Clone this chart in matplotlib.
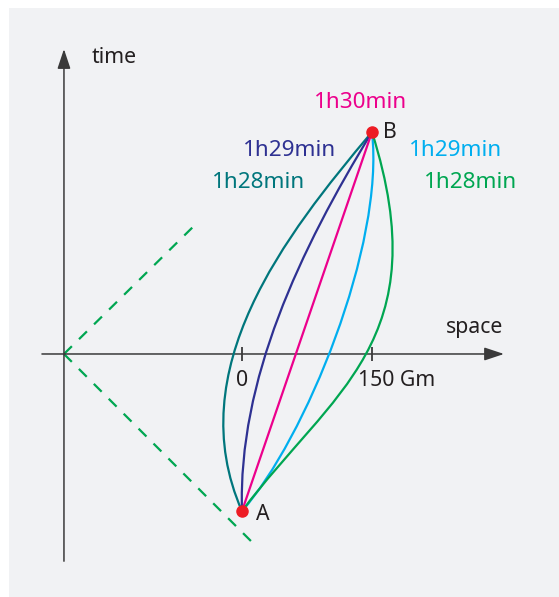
import matplotlib
matplotlib.use("Agg")
import matplotlib.pyplot as plt
from matplotlib.path import Path
from matplotlib.patches import PathPatch, Rectangle

# events (space in Gm, time in min)
event_names = ["A", "B"]
event_x = [0, 150]
event_t = [0, 90]

space_ticks = [0, 150]
space_tick_labels = ["0", "150 Gm"]

# world lines from A to B: bezier control points between the two events
path_labels = ["1h28min", "1h29min", "1h30min", "1h29min", "1h28min"]
path_colors = ["#00767c", "#2e3192", "#ec008c", "#00aeef", "#00a651"]
teal_ctrl = [(-71.5, 33.5), (49.6, 65.5)]
navy_ctrl = [(-4.6, 31.1), (66.9, 62.0)]
magenta_ctrl = []
cyan_ctrl = [(72.7, 16.9), (165.0, 63.2)]
green_ctrl = [(103.8, 28.5), (226.2, 40.4)]

# axes of the diagram
origin_x, origin_t = -205.4, 37.3
time_axis = [-11.9, 109.7]
space_axis = [-230.8, 302.3]
cone_up = (-55.4, 67.7)
cone_down = (12.7, -7.6)

ink = "#231f20"
axis_col = "#3a3a3a"

fig = plt.figure(figsize=(5.59, 5.97), dpi=100)
ax = fig.add_axes([0, 0, 1, 1])
ax.set_xlim(-279.2, 365.8)
ax.set_ylim(-20.4, 121.35)
ax.axis("off")
ax.add_patch(Rectangle((9 / 559, 0), 1, 1 - 7.5 / 597, transform=ax.transAxes,
                       facecolor="#f1f2f4", edgecolor="none", zorder=0))

plt.rcParams["font.family"] = ["Noto Sans", "DejaVu Sans"]

# axes with arrow heads
arrow = dict(arrowstyle="-|>,head_length=0.6,head_width=0.2", mutation_scale=20,
             lw=1.1, color=axis_col, shrinkA=0, shrinkB=0)
ax.annotate("", xy=(origin_x, time_axis[1]), xytext=(origin_x, time_axis[0]), arrowprops=arrow)
ax.annotate("", xy=(space_axis[1], origin_t), xytext=(space_axis[0], origin_t), arrowprops=arrow)
ax.plot(space_ticks, [origin_t] * len(space_ticks), ls="none", marker="|",
        ms=10, mew=1.3, color=axis_col)

# light cone
for end in [cone_up, cone_down]:
    ax.plot([origin_x, end[0]], [origin_t, end[1]], color="#00a651", lw=1.6,
            dashes=(5, 4.5), solid_capstyle="butt")

# world lines
A = (event_x[0], event_t[0])
B = (event_x[1], event_t[1])
for ctrl, col in zip([teal_ctrl, navy_ctrl, magenta_ctrl, cyan_ctrl, green_ctrl], path_colors):
    if ctrl:
        verts = [A] + ctrl + [B]
        codes = [Path.MOVETO] + [Path.CURVE4] * (len(verts) - 1)
    else:
        verts = [A, B]
        codes = [Path.MOVETO, Path.LINETO]
    ax.add_patch(PathPatch(Path(verts, codes), facecolor="none", edgecolor=col, lw=1.6, zorder=3))

ax.plot(event_x, event_t, "o", ms=8, color="#ed1c24", zorder=5)

fs = 15.3
ax.text(16.2, -0.7, event_names[0], fontsize=fs, color=ink, va="center", ha="left")
ax.text(162.7, 90, event_names[1], fontsize=fs, color=ink, va="center", ha="left")
ax.text(-173.1, 107.6, "time", fontsize=fs, color=ink, va="center", ha="left")
ax.text(235.4, 43.5, "space", fontsize=fs, color=ink, va="center", ha="left")
ax.text(space_ticks[0], 31.1, space_tick_labels[0], fontsize=fs, color=ink, va="center", ha="center")
ax.text(133.8, 31.1, space_tick_labels[1], fontsize=fs, color=ink, va="center", ha="left")

label_pos = [(19.0, 78.1), (55.4, 85.5), (137.3, 96.9), (246.3, 85.5), (264.2, 78.1)]
for lab, col, (lx, lt) in zip(path_labels, path_colors, label_pos):
    ax.text(lx, lt, lab, fontsize=16.2, color=col, va="center", ha="center")

fig.savefig("out.png", dpi=100, facecolor="white")
